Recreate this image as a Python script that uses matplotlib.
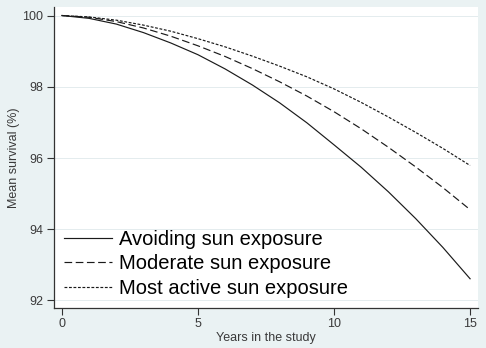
import matplotlib
matplotlib.use("Agg")
import matplotlib.pyplot as plt

plt.rcParams['font.family'] = ['Liberation Sans', 'DejaVu Sans']

years = [0, 1, 2, 3, 4, 5, 6, 7, 8, 9, 10, 11, 12, 13, 14, 15]

avoiding = [100, 99.92, 99.76, 99.52, 99.23, 98.90, 98.50, 98.05, 97.55,
            96.99, 96.37, 95.74, 95.05, 94.30, 93.49, 92.61]
moderate = [100, 99.95, 99.83, 99.65, 99.42, 99.15, 98.85, 98.51, 98.14,
            97.74, 97.30, 96.82, 96.30, 95.75, 95.17, 94.55]
most_active = [100, 99.96, 99.87, 99.73, 99.56, 99.35, 99.12, 98.86, 98.58,
               98.28, 97.94, 97.56, 97.15, 96.72, 96.27, 95.79]

labels = ["Avoiding sun exposure", "Moderate sun exposure", "Most active sun exposure"]
x_ticks = [0, 5, 10, 15]
y_ticks = [92, 94, 96, 98, 100]

bg = '#eaf2f3'
fig = plt.figure(figsize=(4.86, 3.48), dpi=100, facecolor=bg)
ax = fig.add_axes([0.111, 0.115, 0.8725, 0.865])
ax.set_facecolor('white')

line_col = '#1a1a1a'
ax.plot(years, avoiding, color=line_col, lw=0.85, label=labels[0])
ax.plot(years, moderate, color=line_col, lw=0.85, dashes=(6.5, 3), label=labels[1])
ax.plot(years, most_active, color=line_col, lw=0.85, dashes=(2.4, 1.4), label=labels[2])

ax.set_xlim(-0.29, 15.29)
ax.set_ylim(91.79, 100.24)
ax.set_xticks(x_ticks)
ax.set_yticks(y_ticks)
ax.grid(axis='y', color='#e4ecee', lw=0.7)
ax.set_axisbelow(True)

for side in ['top', 'right']:
    ax.spines[side].set_visible(False)
for side in ['left', 'bottom']:
    ax.spines[side].set_color('#333333')
    ax.spines[side].set_linewidth(0.9)

ax.tick_params(axis='both', labelsize=9, colors='#333333', length=5, width=0.8, pad=2.5)
ax.tick_params(axis='x', pad=2)
for lab in ax.get_xticklabels() + ax.get_yticklabels():
    lab.set_color('#3a3a3a')

ax.set_xlabel("Years in the study", fontsize=9, color='#3a3a3a', labelpad=2)
ax.set_ylabel("Mean survival (%)", fontsize=9, color='#3a3a3a', labelpad=2)

ax.legend(loc='lower left', frameon=False, fontsize=14.5, handlelength=2.4,
          handletextpad=0.35, labelspacing=0.28, borderaxespad=0.1,
          bbox_to_anchor=(0.0, 0.0))

fig.savefig("out.png", dpi=100, facecolor=bg)
